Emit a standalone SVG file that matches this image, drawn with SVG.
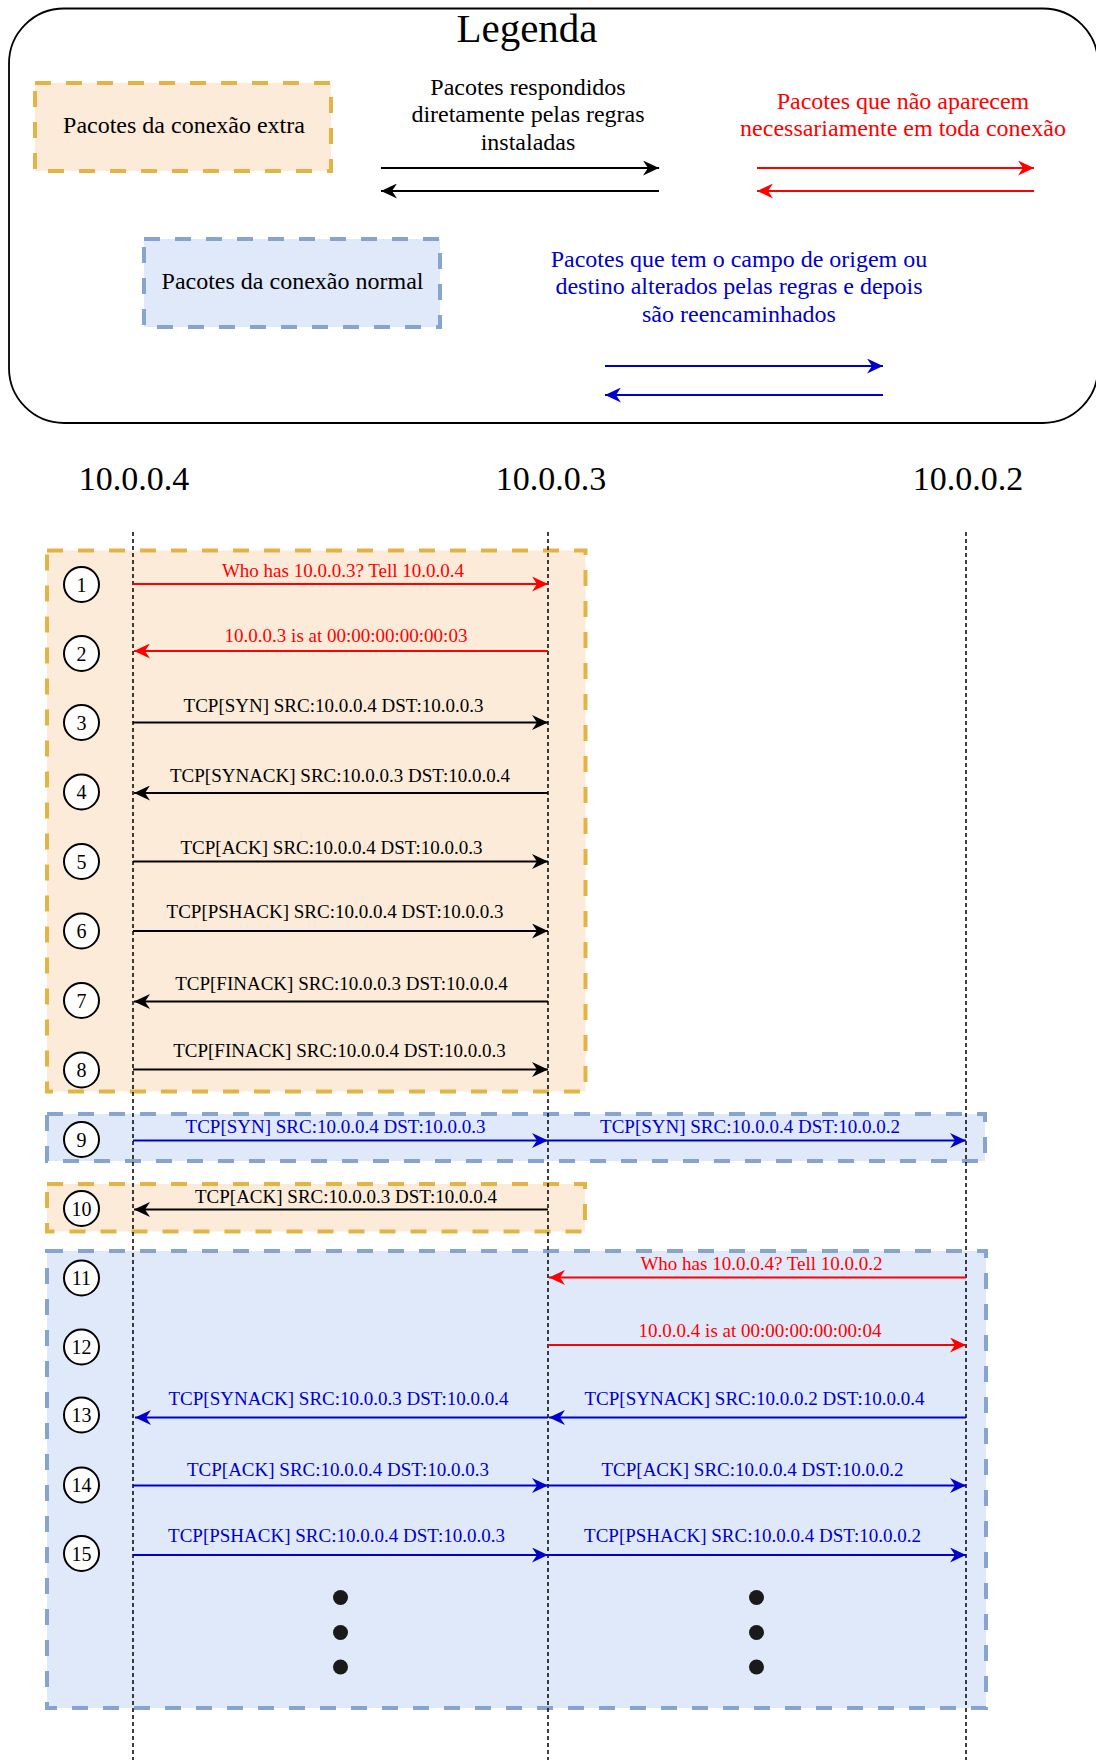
<svg xmlns="http://www.w3.org/2000/svg" width="1096" height="1760" viewBox="0 0 1096 1760">
<defs>
<style>
text { font-family: "Liberation Serif", "Times New Roman", serif; }
.lbl { font-size: 19px; text-anchor: middle; }
.leg { font-size: 24px; text-anchor: middle; }
.host { font-size: 34px; text-anchor: middle; }
.num { font-size: 20px; text-anchor: middle; }
.k { fill: #000000; }
.r { fill: #ff0000; }
.b { fill: #0000cc; }
.extra { fill: #fdebd9; stroke: #e3b346; stroke-width: 4; stroke-dasharray: 16 15; }
.normal { fill: #dfe9fa; stroke: #87a3cf; stroke-width: 4; stroke-dasharray: 16 15; }
.life { stroke: #000000; stroke-width: 1.5; stroke-dasharray: 4 3; fill: none; }
.ak { stroke: #000000; stroke-width: 1.9; fill: none; marker-end: url(#mk); }
.ar { stroke: #ff0000; stroke-width: 1.9; fill: none; marker-end: url(#mr); }
.ab { stroke: #0000cc; stroke-width: 1.9; fill: none; marker-end: url(#mb); }
.circ { fill: #ffffff; stroke: #000000; stroke-width: 2; }
.dot { fill: #1a1a1a; }
</style>
<marker id="mk" viewBox="0 0 16 15" refX="16" refY="7.5" markerWidth="16" markerHeight="15" markerUnits="userSpaceOnUse" orient="auto"><path d="M0,0 L16,7.5 L0,15 L5,7.5 Z" fill="#000000"/></marker>
<marker id="mr" viewBox="0 0 16 15" refX="16" refY="7.5" markerWidth="16" markerHeight="15" markerUnits="userSpaceOnUse" orient="auto"><path d="M0,0 L16,7.5 L0,15 L5,7.5 Z" fill="#ff0000"/></marker>
<marker id="mb" viewBox="0 0 16 15" refX="16" refY="7.5" markerWidth="16" markerHeight="15" markerUnits="userSpaceOnUse" orient="auto"><path d="M0,0 L16,7.5 L0,15 L5,7.5 Z" fill="#0000cc"/></marker>
</defs>
<rect width="1096" height="1760" fill="#ffffff"/>

<g id="legend">
<rect x="9" y="8.5" width="1089" height="414.5" rx="55" ry="55" fill="#ffffff" stroke="#000000" stroke-width="1.8"/>
<text x="527" y="42" font-size="41" text-anchor="middle" class="k">Legenda</text>
<g id="legend-extra">
<rect class="extra" x="35" y="83" width="296" height="88"/>
<text class="leg k" x="184" y="133">Pacotes da conexão extra</text>
</g>
<g id="legend-normal">
<rect class="normal" x="144" y="239" width="296" height="88"/>
<text class="leg k" x="292.5" y="288.5">Pacotes da conexão normal</text>
</g>
<g id="legend-black">
<text class="leg k" x="528" y="94.5">Pacotes respondidos</text>
<text class="leg k" x="528" y="122">diretamente pelas regras</text>
<text class="leg k" x="528" y="149.5">instaladas</text>
<line class="ak" x1="381" y1="168" x2="659" y2="168"/>
<line class="ak" x1="659" y1="191" x2="381" y2="191"/>
</g>
<g id="legend-red">
<text class="leg r" x="903" y="108.5">Pacotes que não aparecem</text>
<text class="leg r" x="903" y="136">necessariamente em toda conexão</text>
<line class="ar" x1="757" y1="168" x2="1034" y2="168"/>
<line class="ar" x1="1034" y1="191" x2="757" y2="191"/>
</g>
<g id="legend-blue">
<text class="leg b" x="739" y="266.5">Pacotes que tem o campo de origem ou</text>
<text class="leg b" x="739" y="294">destino alterados pelas regras e depois</text>
<text class="leg b" x="739" y="321.5">são reencaminhados</text>
<line class="ab" x1="605" y1="366" x2="883" y2="366"/>
<line class="ab" x1="883" y1="395" x2="605" y2="395"/>
</g>
</g>

<g id="groups">
<rect id="grp-extra-1" class="extra" x="47" y="550.5" width="538.5" height="541"/>
<rect id="grp-normal-9" class="normal" x="47" y="1114" width="938" height="47"/>
<rect id="grp-extra-10" class="extra" x="47" y="1184" width="538" height="47.5"/>
<rect id="grp-normal-11" class="normal" x="47" y="1251" width="939" height="457"/>
</g>

<g id="hosts">
<g id="host-4"><text class="host k" x="134" y="490">10.0.0.4</text><line class="life" x1="133" y1="532" x2="133" y2="1760"/></g>
<g id="host-3"><text class="host k" x="551" y="490">10.0.0.3</text><line class="life" x1="548" y1="532" x2="548" y2="1760"/></g>
<g id="host-2"><text class="host k" x="968" y="490">10.0.0.2</text><line class="life" x1="966" y1="532" x2="966" y2="1760"/></g>
</g>

<g id="connectors">
<line class="ar" x1="133" y1="584" x2="548" y2="584"/>
<line class="ar" x1="548" y1="651" x2="134" y2="651"/>
<line class="ak" x1="133" y1="722.5" x2="548" y2="722.5"/>
<line class="ak" x1="548" y1="793" x2="134" y2="793"/>
<line class="ak" x1="133" y1="861.5" x2="548" y2="861.5"/>
<line class="ak" x1="133" y1="931" x2="548" y2="931"/>
<line class="ak" x1="548" y1="1001.5" x2="134" y2="1001.5"/>
<line class="ak" x1="133" y1="1069.5" x2="548" y2="1069.5"/>
<line class="ab" x1="133" y1="1140.5" x2="548" y2="1140.5"/>
<line class="ab" x1="548" y1="1140.5" x2="966" y2="1140.5"/>
<line class="ak" x1="548" y1="1209.5" x2="134" y2="1209.5"/>
<line class="ar" x1="966" y1="1277.5" x2="549" y2="1277.5"/>
<line class="ar" x1="548" y1="1345" x2="966" y2="1345"/>
<line class="ab" x1="966" y1="1417.5" x2="549" y2="1417.5"/>
<line class="ab" x1="548" y1="1417.5" x2="135" y2="1417.5"/>
<line class="ab" x1="133" y1="1485.5" x2="548" y2="1485.5"/>
<line class="ab" x1="548" y1="1485.5" x2="966" y2="1485.5"/>
<line class="ab" x1="133" y1="1555" x2="548" y2="1555"/>
<line class="ab" x1="548" y1="1555" x2="966" y2="1555"/>
</g>

<g id="labels">
<text class="lbl r" x="343" y="577">Who has 10.0.0.3? Tell 10.0.0.4</text>
<text class="lbl r" x="346" y="642">10.0.0.3 is at 00:00:00:00:00:03</text>
<text class="lbl k" x="333.5" y="712">TCP[SYN] SRC:10.0.0.4 DST:10.0.0.3</text>
<text class="lbl k" x="340" y="782">TCP[SYNACK] SRC:10.0.0.3 DST:10.0.0.4</text>
<text class="lbl k" x="331.5" y="853.5">TCP[ACK] SRC:10.0.0.4 DST:10.0.0.3</text>
<text class="lbl k" x="335" y="918">TCP[PSHACK] SRC:10.0.0.4 DST:10.0.0.3</text>
<text class="lbl k" x="341.5" y="989.5">TCP[FINACK] SRC:10.0.0.3 DST:10.0.0.4</text>
<text class="lbl k" x="339.5" y="1057">TCP[FINACK] SRC:10.0.0.4 DST:10.0.0.3</text>
<text class="lbl b" x="335.5" y="1133">TCP[SYN] SRC:10.0.0.4 DST:10.0.0.3</text>
<text class="lbl b" x="750" y="1133">TCP[SYN] SRC:10.0.0.4 DST:10.0.0.2</text>
<text class="lbl k" x="346" y="1203">TCP[ACK] SRC:10.0.0.3 DST:10.0.0.4</text>
<text class="lbl r" x="761.5" y="1270">Who has 10.0.0.4? Tell 10.0.0.2</text>
<text class="lbl r" x="760" y="1337">10.0.0.4 is at 00:00:00:00:00:04</text>
<text class="lbl b" x="338.5" y="1405">TCP[SYNACK] SRC:10.0.0.3 DST:10.0.0.4</text>
<text class="lbl b" x="754.5" y="1405">TCP[SYNACK] SRC:10.0.0.2 DST:10.0.0.4</text>
<text class="lbl b" x="338" y="1476">TCP[ACK] SRC:10.0.0.4 DST:10.0.0.3</text>
<text class="lbl b" x="752.5" y="1476">TCP[ACK] SRC:10.0.0.4 DST:10.0.0.2</text>
<text class="lbl b" x="336.5" y="1542">TCP[PSHACK] SRC:10.0.0.4 DST:10.0.0.3</text>
<text class="lbl b" x="752.5" y="1542">TCP[PSHACK] SRC:10.0.0.4 DST:10.0.0.2</text>
</g>

<g id="steps">
<g id="step-1"><circle class="circ" cx="81.5" cy="584.5" r="17.5"/><text class="num k" x="81.5" y="591.5">1</text></g>
<g id="step-2"><circle class="circ" cx="81.5" cy="653.5" r="17.5"/><text class="num k" x="81.5" y="660.5">2</text></g>
<g id="step-3"><circle class="circ" cx="81.5" cy="722.5" r="17.5"/><text class="num k" x="81.5" y="729.5">3</text></g>
<g id="step-4"><circle class="circ" cx="81.5" cy="792" r="17.5"/><text class="num k" x="81.5" y="799">4</text></g>
<g id="step-5"><circle class="circ" cx="81.5" cy="861.5" r="17.5"/><text class="num k" x="81.5" y="868.5">5</text></g>
<g id="step-6"><circle class="circ" cx="81.5" cy="931" r="17.5"/><text class="num k" x="81.5" y="938">6</text></g>
<g id="step-7"><circle class="circ" cx="81.5" cy="1000.5" r="17.5"/><text class="num k" x="81.5" y="1007.5">7</text></g>
<g id="step-8"><circle class="circ" cx="81.5" cy="1070" r="17.5"/><text class="num k" x="81.5" y="1077">8</text></g>
<g id="step-9"><circle class="circ" cx="81.5" cy="1139.5" r="17.5"/><text class="num k" x="81.5" y="1146.5">9</text></g>
<g id="step-10"><circle class="circ" cx="81.5" cy="1208.5" r="17.5"/><text class="num k" x="81.5" y="1215.5">10</text></g>
<g id="step-11"><circle class="circ" cx="81.5" cy="1278" r="17.5"/><text class="num k" x="81.5" y="1285">11</text></g>
<g id="step-12"><circle class="circ" cx="81.5" cy="1347" r="17.5"/><text class="num k" x="81.5" y="1354">12</text></g>
<g id="step-13"><circle class="circ" cx="81.5" cy="1415" r="17.5"/><text class="num k" x="81.5" y="1422">13</text></g>
<g id="step-14"><circle class="circ" cx="81.5" cy="1485" r="17.5"/><text class="num k" x="81.5" y="1492">14</text></g>
<g id="step-15"><circle class="circ" cx="81.5" cy="1553.5" r="17.5"/><text class="num k" x="81.5" y="1560.5">15</text></g>
</g>

<g id="ellipsis">
<circle class="dot" cx="340.5" cy="1597.5" r="7.5"/>
<circle class="dot" cx="340.5" cy="1632.5" r="7.5"/>
<circle class="dot" cx="340.5" cy="1667" r="7.5"/>
<circle class="dot" cx="756.5" cy="1597.5" r="7.5"/>
<circle class="dot" cx="756.5" cy="1632.5" r="7.5"/>
<circle class="dot" cx="756.5" cy="1667" r="7.5"/>
</g>
</svg>
